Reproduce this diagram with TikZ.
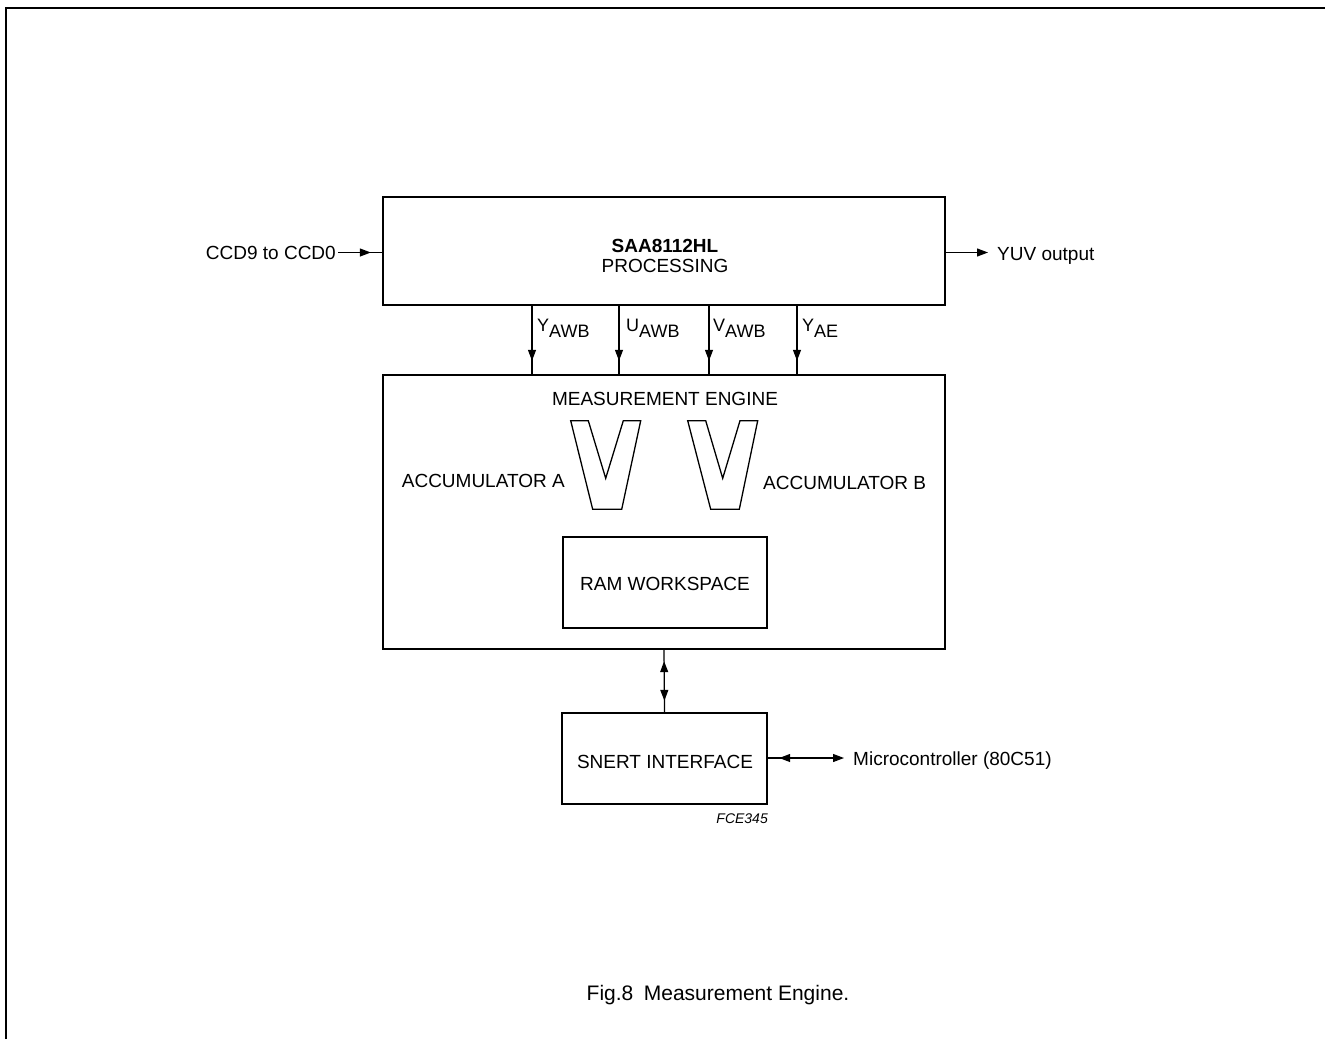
\documentclass[tikz,border=0pt]{standalone}
\usepackage{fontspec}
\setmainfont{Liberation Sans}
\usetikzlibrary{arrows.meta,decorations.markings}
\begin{document}
\begin{tikzpicture}[x=1pt,y=-1pt,
  box/.style={draw,line width=2.4pt,rectangle,inner sep=0pt},
  conn/.style={line width=1.2pt},
  txt/.style={font=\fontsize{19}{22}\selectfont,inner sep=0pt},
  sig/.style={font=\fontsize{18}{21}\selectfont,inner sep=0pt},
  vshape/.style={line width=1.3pt},
  tipdown/.style={postaction={decorate},decoration={markings,mark=at position -13pt with {\arrow{Triangle[length=11pt,width=8pt]}}}},
  tipmid/.style={postaction={decorate},decoration={markings,mark=at position -11pt with {\arrow{Triangle[length=11pt,width=8pt]}}}},
  tipboth/.style={postaction={decorate},decoration={markings,
     mark=at position 11pt with {\arrowreversed{Triangle[length=11pt,width=8pt]}},
     mark=at position -11pt with {\arrow{Triangle[length=11pt,width=8pt]}}}},
  tipend/.style={-{Triangle[length=11pt,width=8pt]}}
]
\useasboundingbox (0,0) rectangle (1325,1039);
\draw[line width=2pt] (6,1039) |- (1325,8);

% boxes
\node[box,minimum width=562pt,minimum height=108pt] (proc) at (664,251) {};
\node[box,minimum width=562pt,minimum height=274pt] (meas) at (664,512) {};
\node[box,minimum width=204pt,minimum height=91pt] (ram) at (665,582.5) {};
\node[box,minimum width=205pt,minimum height=91pt] (snert) at (664.5,758.5) {};

% texts
\node[txt,anchor=base] (t1) at (665,252) {\bfseries SAA8112HL};
\node[txt,anchor=base] (t2) at (665,272) {PROCESSING};
\node[txt,anchor=base] (t3) at (665,405) {MEASUREMENT ENGINE};
\node[txt,anchor=base east] (acca) at (565,487) {ACCUMULATOR A};
\node[txt,anchor=base west] (accb) at (763,489) {ACCUMULATOR B};
\node[txt,anchor=base] (t4) at (665,590) {RAM WORKSPACE};
\node[txt,anchor=base] (t5) at (665,768) {SNERT INTERFACE};
\node[txt,anchor=base east] (ccd) at (336,259) {CCD9 to CCD0};
\node[txt,anchor=base west] (yuv) at (997,260) {YUV output};
\node[txt,anchor=base west] (mc) at (853,765) {Microcontroller (80C51)};
\node[inner sep=0pt,anchor=base east,font=\fontsize{14}{16}\selectfont\itshape] (fce) at (768,823) {FCE345};
\node[inner sep=0pt,anchor=base,font=\fontsize{21}{24}\selectfont] (cap) at (718,1000) {Fig.8\hspace{0.5em}Measurement Engine.};

% signal labels
\node[sig,anchor=base west] (l1) at (537,331) {Y\raisebox{-6pt}{AWB}};
\node[sig,anchor=base west] (l2) at (626,331) {U\raisebox{-6pt}{AWB}};
\node[sig,anchor=base west] (l3) at (713,331) {V\raisebox{-6pt}{AWB}};
\node[sig,anchor=base west] (l4) at (802,331) {Y\raisebox{-6pt}{AE}};

% signal connectors
\foreach \x/\n in {532/a,619/b,709/c,797/d}{
  \coordinate (s\n) at (\x,251);
  \draw[conn,tipdown] (s\n |- proc.south) -- (s\n |- meas.north);
}

% input/output
\coordinate (ccdend) at (338,252.5);
\draw[conn,tipmid] (ccdend) -- (ccdend -| proc.west);
\coordinate (yuvend) at (988,252.5);
\draw[conn,tipend] (yuvend -| proc.east) -- (yuvend);

% bidirectional
\draw[conn,tipboth] (meas.south) -- (snert.north);
\coordinate (mcend) at (844,758);
\draw[conn,postaction={decorate},decoration={markings,mark=at position 11pt with {\arrowreversed{Triangle[length=11pt,width=8pt]}}},tipend] (mcend -| snert.east) -- (mcend);

% V shapes
\draw[vshape] (570.7,420.7) -- (588.3,420.7) -- (605.7,478.3) -- (623.3,420.7) -- (640.7,420.7) -- (621.7,509.3) -- (592.7,509.3) -- cycle;
\draw[vshape] (687.7,420.7) -- (705.7,420.7) -- (722.7,478.3) -- (740,420.7) -- (757.7,420.7) -- (739.3,509.3) -- (710.7,509.3) -- cycle;
\end{tikzpicture}
\end{document}
